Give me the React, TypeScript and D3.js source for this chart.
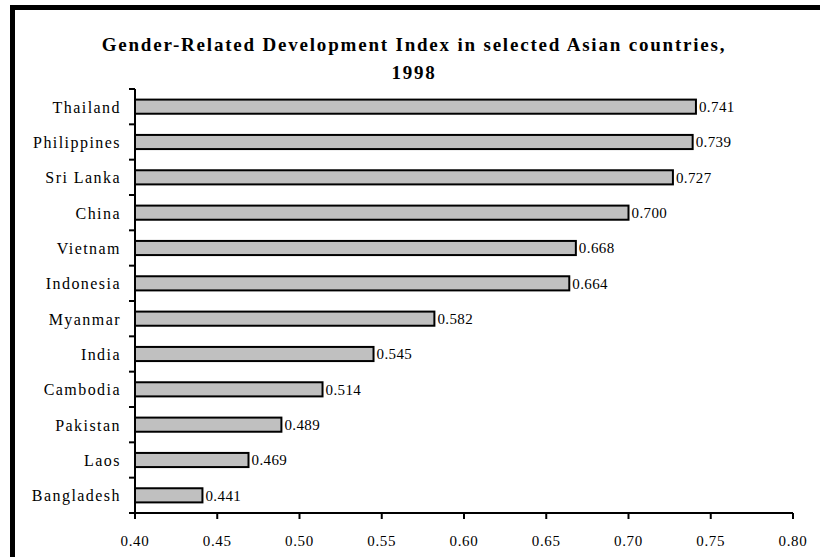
import React from "react";
import * as d3 from "d3";

const countries = ["Thailand", "Philippines", "Sri Lanka", "China", "Vietnam", "Indonesia", "Myanmar", "India", "Cambodia", "Pakistan", "Laos", "Bangladesh"];
const gdiValues = [0.741, 0.739, 0.727, 0.7, 0.668, 0.664, 0.582, 0.545, 0.514, 0.489, 0.469, 0.441];
const xTicks = [0.4, 0.45, 0.5, 0.55, 0.6, 0.65, 0.7, 0.75, 0.8];
const titleLines = ["Gender-Related Development Index in selected Asian countries,", "1998"];

const W = 820;
const H = 557;
const FONT = "'Liberation Serif', 'Times New Roman', serif";

export default function App() {
  const margin = { left: 135, top: 89 };
  const axisY = 513;
  const x = d3.scaleLinear().domain([0.4, 0.8]).range([margin.left, 793]);
  const y = d3.scaleBand<string>().domain(countries).range([margin.top, axisY]).paddingInner(0.6).paddingOuter(0.3);
  const band = d3.scaleBand<string>().domain(countries).range([margin.top, axisY]);

  return (
    <svg width={W} height={H} style={{ position: "absolute", left: 0, top: 0, background: "#fff" }} fontFamily={FONT}>
      <rect x={10} y={5} width={W - 10} height={5} fill="#000" />
      <rect x={10} y={5} width={5} height={H - 5} fill="#000" />

      {titleLines.map((t, i) => (
        <text key={i} x={414} y={51 + i * 28} textAnchor="middle" fontWeight="bold" fontSize={19} letterSpacing={1.8} fill="#000">
          {t}
        </text>
      ))}

      {countries.map((c, i) => {
        const yy = y(c)!;
        const v = gdiValues[i];
        return (
          <g key={c}>
            <rect x={x(0.4)} y={yy} width={x(v) - x(0.4)} height={y.bandwidth()} fill="#c0c0c0" stroke="#000" strokeWidth={2} />
            <text x={x(v) + 3} y={yy + y.bandwidth() / 2} dy="0.36em" fontSize={15} letterSpacing={0.4} fill="#000">
              {d3.format(".3f")(v)}
            </text>
            <text x={121} y={band(c)! + band.bandwidth() / 2} dy="0.38em" textAnchor="end" fontSize={16} letterSpacing={1.45} fill="#000">
              {c}
            </text>
          </g>
        );
      })}

      {/* y axis */}
      <line x1={x(0.4)} x2={x(0.4)} y1={margin.top} y2={axisY} stroke="#000" strokeWidth={2} />
      {d3.range(countries.length + 1).map((i) => {
        const yy = margin.top + i * band.step();
        return <line key={i} x1={x(0.4) - 6} x2={x(0.4)} y1={yy} y2={yy} stroke="#000" strokeWidth={2} />;
      })}

      {/* x axis */}
      <line x1={x(0.4)} x2={x(0.8)} y1={axisY} y2={axisY} stroke="#000" strokeWidth={2} />
      {xTicks.map((t) => (
        <g key={t}>
          <line x1={x(t)} x2={x(t)} y1={axisY} y2={axisY + 6} stroke="#000" strokeWidth={2} />
          <text x={x(t)} y={546} textAnchor="middle" fontSize={15} letterSpacing={0.7} fill="#000">
            {d3.format(".2f")(t)}
          </text>
        </g>
      ))}
    </svg>
  );
}
